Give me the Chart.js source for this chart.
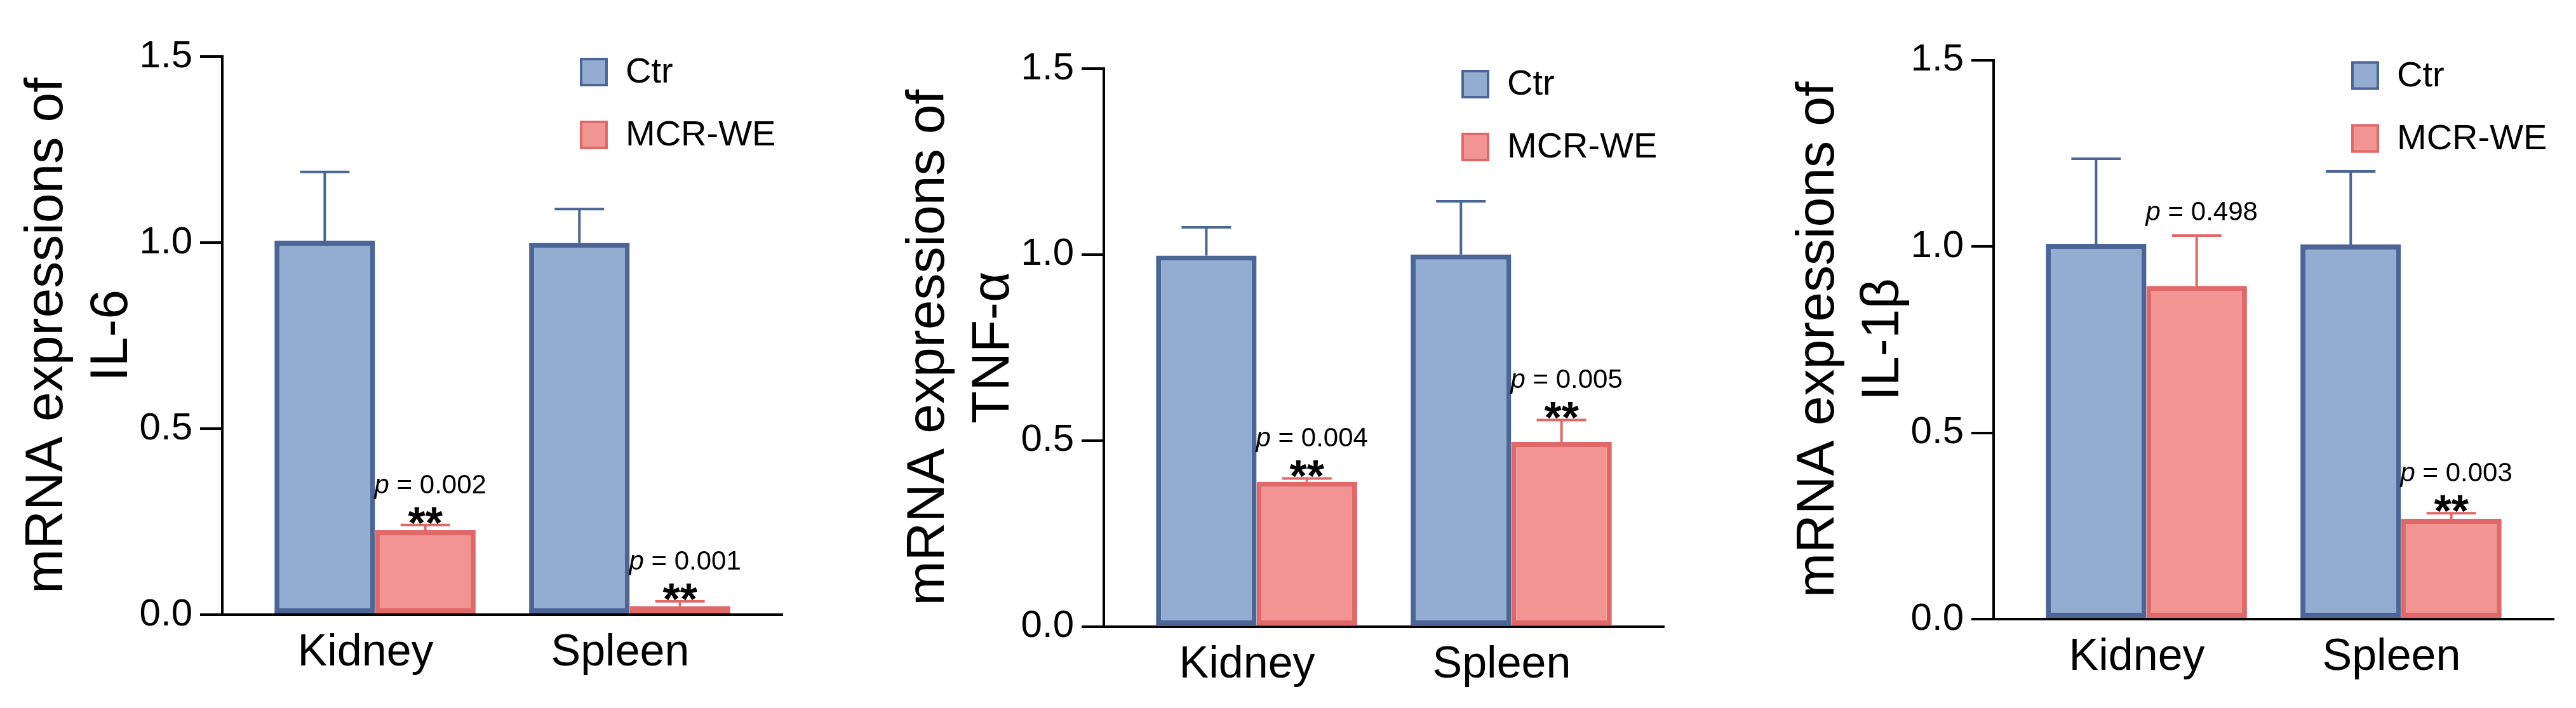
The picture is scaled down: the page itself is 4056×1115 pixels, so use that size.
<!DOCTYPE html>
<html>
<head>
<meta charset="utf-8">
<script src="https://cdn.jsdelivr.net/npm/chart.js@4.4.1/dist/chart.umd.min.js"></script>
<style>
  html, body { margin: 0; padding: 0; background: #fff; overflow: hidden; }
  body { width: 4056px; height: 1115px; position: relative; }
  .panel { position: absolute; top: 0; width: 1267px; height: 1115px; }
</style>
</head>
<body>
<div class="panel" style="left:0px"><canvas id="chart-il6"></canvas></div>
<div class="panel" style="left:1388px"><canvas id="chart-tnf"></canvas></div>
<div class="panel" style="left:2789px"><canvas id="chart-il1b"></canvas></div>
<script>
const categories = ['Kidney', 'Spleen'];
const seriesNames = ['Ctr', 'MCR-WE'];
const yTicks = [0, 0.5, 1.0, 1.5];

// IL-6
const il6Ctr = [1.005, 0.999];
const il6CtrErr = [1.19, 1.09];
const il6Mcr = [0.227, 0.023];
const il6McrErr = [0.241, 0.036];
const il6P = ['0.002', '0.001'];
const il6Stars = ['**', '**'];

// TNF-α
const tnfCtr = [0.997, 1.0];
const tnfCtrErr = [1.073, 1.143];
const tnfMcr = [0.389, 0.496];
const tnfMcrErr = [0.398, 0.555];
const tnfP = ['0.004', '0.005'];
const tnfStars = ['**', '**'];

// IL-1β
const il1bCtr = [1.007, 1.005];
const il1bCtrErr = [1.235, 1.201];
const il1bMcr = [0.894, 0.269];
const il1bMcrErr = [1.029, 0.284];
const il1bP = ['0.498', '0.003'];
const il1bStars = ['', '**'];

const FONT = "'Liberation Sans', Arial, Helvetica, sans-serif";
const ctrFill = '#93acd2';
const ctrLine = '#4a6596';
const mcrFill = '#f29492';
const mcrLine = '#e06868';

Chart.defaults.font.family = FONT;
Chart.defaults.color = '#000';

// error bars, p-values and stars, drawn from the dataset arrays
const annotatePlugin = {
  id: 'annotate',
  afterDatasetsDraw(chart) {
    const { ctx, scales: { y } } = chart;
    chart.data.datasets.forEach((ds, di) => {
      const meta = chart.getDatasetMeta(di);
      meta.data.forEach((bar, i) => {
        const ey = y.getPixelForValue(ds.errTop[i]);
        ctx.save();
        ctx.strokeStyle = ds.borderColor;
        ctx.lineWidth = 4;
        ctx.beginPath();
        ctx.moveTo(bar.x, bar.y);
        ctx.lineTo(bar.x, ey);
        ctx.moveTo(bar.x - 39, ey);
        ctx.lineTo(bar.x + 39, ey);
        ctx.stroke();

        if (ds.pText && ds.pText[i]) {
          const starred = ds.stars[i] !== '';
          const base = starred ? ey - 50 : ey - 24;
          const rest = ` = ${ds.pText[i]}`;
          ctx.fillStyle = '#000';
          ctx.textBaseline = 'alphabetic';
          ctx.textAlign = 'left';
          ctx.font = `italic 42px ${FONT}`;
          const wp = ctx.measureText('p').width;
          ctx.font = `42px ${FONT}`;
          const wr = ctx.measureText(rest).width;
          const x0 = bar.x + 8 - (wp + wr) / 2;
          ctx.font = `italic 42px ${FONT}`;
          ctx.fillText('p', x0, base);
          ctx.font = `42px ${FONT}`;
          ctx.fillText(rest, x0 + wp, base);
          if (starred) {
            ctx.font = `bold 70px ${FONT}`;
            ctx.textAlign = 'center';
            ctx.fillText(ds.stars[i], bar.x, ey + 21);
          }
        }
        ctx.restore();
      });
    });
  },
  afterDraw(chart) {
    const { ctx, chartArea } = chart;
    const bx = chartArea.left + 563;
    chart.data.datasets.forEach((ds, di) => {
      const by = chartArea.top + 2 + di * 99;
      ctx.save();
      ctx.fillStyle = ds.backgroundColor;
      ctx.fillRect(bx, by, 44, 45);
      ctx.strokeStyle = ds.borderColor;
      ctx.lineWidth = 4;
      ctx.strokeRect(bx + 2, by + 2, 40, 41);
      ctx.fillStyle = '#000';
      ctx.font = `56px ${FONT}`;
      ctx.textBaseline = 'middle';
      ctx.textAlign = 'left';
      ctx.fillText(ds.label, bx + 72, by + 24);
      ctx.restore();
    });
  },
};

function makeChart(canvasId, title, ctrVals, ctrErr, mcrVals, mcrErr, pTexts, stars, top, bottom) {
  const toPoints = (vals) => vals.map((v, i) => ({ x: i, y: v }));
  return new Chart(document.getElementById(canvasId), {
    type: 'bar',
    data: {
      datasets: [
        {
          label: seriesNames[0],
          data: toPoints(ctrVals),
          errTop: ctrErr,
          backgroundColor: ctrFill,
          borderColor: ctrLine,
          borderWidth: 8,
          borderSkipped: false,
        },
        {
          label: seriesNames[1],
          data: toPoints(mcrVals),
          errTop: mcrErr,
          pText: pTexts,
          stars,
          backgroundColor: mcrFill,
          borderColor: mcrLine,
          borderWidth: 8,
          borderSkipped: false,
        },
      ],
    },
    options: {
      animation: false,
      responsive: true,
      maintainAspectRatio: false,
      layout: { padding: { left: 0, right: 35, top, bottom: 0 } },
      datasets: { bar: { categoryPercentage: 0.79, barPercentage: 1.0 } },
      plugins: { legend: { display: false }, tooltip: { enabled: false } },
      scales: {
        x: {
          type: 'linear',
          offset: false, // linear offset would pad the range by half a step
          min: -0.6,
          max: 1.6,
          afterBuildTicks: (scale) => { scale.ticks = categories.map((c, i) => ({ value: i })); },
          afterFit: (scale) => { scale.height = 1115 - bottom; },
          grid: { display: false, drawTicks: false, tickLength: 0 },
          border: { display: true, color: '#000', width: 4 },
          ticks: {
            autoSkip: false,
            maxRotation: 0,
            padding: 19,
            labelOffset: -15,
            color: '#000',
            font: { size: 70 },
            callback: (value) => categories[value] ?? '',
          },
        },
        y: {
          min: 0,
          max: 1.5,
          afterBuildTicks: (scale) => { scale.ticks = yTicks.map((v) => ({ value: v })); },
          afterFit: (scale) => { scale.width = 350; },
          grid: {
            drawOnChartArea: false,
            drawTicks: true,
            tickLength: 35,
            color: '#000',
            lineWidth: 4,
          },
          border: { display: true, color: '#000', width: 4 },
          ticks: {
            padding: 12,
            color: '#000',
            font: { size: 60 },
            callback: (value) => value.toFixed(1),
          },
          title: {
            display: true,
            text: ['mRNA expressions of', title],
            color: '#000',
            font: { size: 84, lineHeight: 1.214 },
            padding: { top: 24, bottom: 0 },
          },
        },
      },
    },
    plugins: [annotatePlugin],
  });
}

makeChart('chart-il6', 'IL-6', il6Ctr, il6CtrErr, il6Mcr, il6McrErr, il6P, il6Stars, 89, 968);
makeChart('chart-tnf', 'TNF-α', tnfCtr, tnfCtrErr, tnfMcr, tnfMcrErr, tnfP, tnfStars, 108, 986.5);
makeChart('chart-il1b', 'IL-1β', il1bCtr, il1bCtrErr, il1bMcr, il1bMcrErr, il1bP, il1bStars, 94.5, 975);
</script>
</body>
</html>
